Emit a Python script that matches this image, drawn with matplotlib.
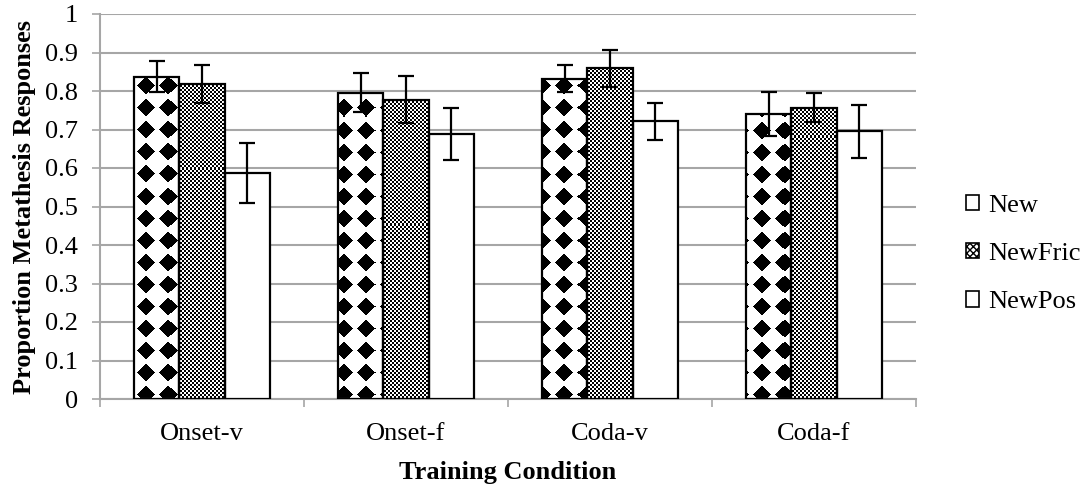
import numpy as np
import matplotlib
matplotlib.use("Agg")
import matplotlib.pyplot as plt
from matplotlib.patches import Patch

plt.rcParams['font.family'] = ['Liberation Serif', 'DejaVu Serif']

categories = ["Onset-v", "Onset-f", "Coda-v", "Coda-f"]
series_names = ["New", "NewFric", "NewPos"]
new_vals = [0.837, 0.796, 0.832, 0.740]
new_err = [0.040, 0.050, 0.035, 0.058]
fric_vals = [0.819, 0.777, 0.859, 0.757]
fric_err = [0.049, 0.061, 0.048, 0.037]
pos_vals = [0.587, 0.688, 0.722, 0.695]
pos_err = [0.078, 0.068, 0.048, 0.068]
y_ticks = [0, 0.1, 0.2, 0.3, 0.4, 0.5, 0.6, 0.7, 0.8, 0.9, 1]

FS = 19
W, H = 1082, 487
fig = plt.figure(figsize=(W / 100, H / 100), dpi=100)
ax_l, ax_b, ax_w, ax_h = 100, 88, 816, 385
ax = fig.add_axes([ax_l / W, ax_b / H, ax_w / W, ax_h / H])

xmin, xmax, ymin, ymax = -0.5, len(categories) - 0.5, 0, 1
x = np.arange(len(categories))
bw = 0.222
offsets = [-bw, 0, bw]

# textures in axes-pixel space
rows, cols = np.mgrid[0:ax_h, 0:ax_w]
rc = rows + 0.5
cc = cols + 0.5
dx = np.mod(cc - 2 + 11, 22) - 11
dy = np.mod(rc - 6.3 + 11, 22) - 11
diamond_tex = np.where(np.abs(dx) + np.abs(dy) <= 9, 0.0, 1.0)
checker_tex = np.where(((cols // 2) + (rows // 2)) % 2 == 0, 0.0, 1.0)

gray = '#a6a6a6'
all_vals = [new_vals, fric_vals, pos_vals]
all_errs = [new_err, fric_err, pos_err]
textures = [diamond_tex, checker_tex, None]

for k in range(3):
    bars = ax.bar(x + offsets[k], all_vals[k], width=bw, color='white',
                  edgecolor='none', zorder=2)
    tex = textures[k]
    if tex is not None:
        for b in bars:
            im = ax.imshow(tex, cmap='gray', vmin=0, vmax=1,
                           extent=(xmin, xmax, ymin, ymax), origin='upper',
                           aspect='auto', interpolation='nearest', zorder=2.5)
            im.set_clip_path(b)
    ax.bar(x + offsets[k], all_vals[k], width=bw, fill=False,
           edgecolor='black', linewidth=1.6, zorder=3)
    ax.errorbar(x + offsets[k], all_vals[k], yerr=all_errs[k], fmt='none',
                ecolor='black', elinewidth=1.6, capsize=5.5, capthick=1.6,
                zorder=4)

ax.set_xlim(xmin, xmax)
ax.set_ylim(ymin, ymax)

ax.set_yticks(y_ticks)
ax.set_yticklabels(['%g' % t for t in y_ticks], fontsize=FS)
ax.yaxis.grid(True, color=gray, linewidth=1.5, zorder=0)
ax.set_axisbelow(True)

ax.set_xticks(np.arange(len(categories) + 1) - 0.5)
ax.set_xticklabels([])
ax.set_xticks(x, minor=True)
ax.set_xticklabels(categories, minor=True, fontsize=FS)
ax.tick_params(axis='x', which='minor', length=0, pad=17)
ax.tick_params(axis='x', which='major', length=6, color=gray, width=1.2)
ax.tick_params(axis='y', length=6, color=gray, width=1.2, pad=10)

for s in ['top', 'right']:
    ax.spines[s].set_visible(False)
for s in ['left', 'bottom']:
    ax.spines[s].set_color(gray)
    ax.spines[s].set_linewidth(1.5)

ax.set_ylabel("Proportion Metathesis Responses", fontsize=FS,
              fontweight='bold', labelpad=6)
ax.set_xlabel("Training Condition", fontsize=FS, fontweight='bold',
              labelpad=11.5)

handles = [
    Patch(facecolor='white', edgecolor='black', linewidth=1.2),
    Patch(facecolor='white', edgecolor='black', linewidth=1.2, hatch='xxxxx'),
    Patch(facecolor='white', edgecolor='black', linewidth=1.2),
]
fig.legend(handles, series_names, loc='center left',
           bbox_to_anchor=(966 / W, (H - 254) / H), frameon=False,
           fontsize=FS, handlelength=0.5, handleheight=0.5,
           handletextpad=0.35, labelspacing=1.0, borderpad=0,
           borderaxespad=0)

fig.savefig("out.png", dpi=100)
